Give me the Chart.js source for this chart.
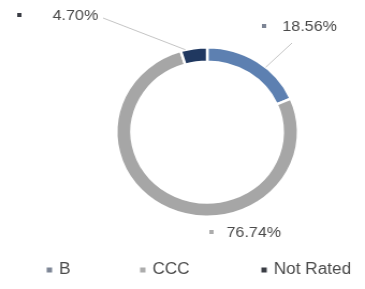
<!DOCTYPE html>
<html>
<head>
<meta charset="utf-8">
<script src="https://cdn.jsdelivr.net/npm/chart.js@4/dist/chart.umd.min.js"></script>
<style>
  html, body { margin: 0; padding: 0; background: #fff; overflow: hidden; }
  #wrap { width: 340px; height: 289px; transform: scaleX(1.0735); transform-origin: 0 0; }
</style>
</head>
<body>
<div id="wrap"><canvas id="ratings"></canvas></div>
<script>
(function () {
  'use strict';

  var categories = ['B', 'CCC', 'Not Rated'];
  var shares = [18.56, 76.74, 4.70];
  var colors = ['#5d80b1', '#a6a6a6', '#203860'];
  var dotColors = ['#7d8595', '#acacac', '#3a3d44'];

  // where each value label sits, and where its leader line starts
  var spots = [
    { text: [263, 27], dot: [246, 26], line: [272, 43], frac: 0.6 },
    { text: [211, 233], dot: [197, 232], line: null },
    { text: [49, 16], dot: [18, 15], line: [96, 18], frac: 0.18 },
  ];
  var legendX = [46, 133, 246];
  var legendY = 270;

  var labelPlugin = {
    id: 'valueLabels',
    afterDraw: function (chart) {
      var ctx = chart.ctx;
      var arcs = chart.getDatasetMeta(0).data;
      ctx.save();
      ctx.font = '15px "Liberation Sans", Arial, sans-serif';
      ctx.textBaseline = 'middle';
      arcs.forEach(function (el, i) {
        var s = spots[i];
        var p = el.getProps(['x', 'y', 'startAngle', 'endAngle', 'outerRadius'], true);
        if (s.line) {
          var a = p.startAngle + (p.endAngle - p.startAngle) * s.frac;
          ctx.strokeStyle = '#c4c4c4';
          ctx.lineWidth = 1;
          ctx.beginPath();
          ctx.moveTo(s.line[0], s.line[1]);
          ctx.lineTo(p.x + Math.cos(a) * p.outerRadius, p.y + Math.sin(a) * p.outerRadius);
          ctx.stroke();
        }
        ctx.fillStyle = dotColors[i];
        ctx.fillRect(s.dot[0] - 2, s.dot[1] - 2, 4, 4);
        ctx.fillStyle = '#4a4a4a';
        ctx.fillText(shares[i].toFixed(2) + '%', s.text[0], s.text[1]);
      });

      ctx.font = '16px "Liberation Sans", Arial, sans-serif';
      categories.forEach(function (name, i) {
        ctx.fillStyle = dotColors[i];
        ctx.fillRect(legendX[i] - 2.5, legendY - 2.5, 5, 5);
        ctx.fillStyle = '#4a4a4a';
        ctx.fillText(name, legendX[i] + 9, legendY);
      });
      ctx.restore();
    },
  };

  new Chart(document.getElementById('ratings'), {
    type: 'doughnut',
    data: {
      labels: categories,
      datasets: [
        {
          data: shares,
          backgroundColor: colors,
          borderColor: '#ffffff',
          borderWidth: 2.5,
        },
      ],
    },
    options: {
      responsive: true,
      maintainAspectRatio: false,
      animation: false,
      cutout: '83%',
      layout: { padding: { top: 46, bottom: 71, left: 46, right: 0 } },
      plugins: {
        legend: { display: false },
        tooltip: { enabled: false },
      },
    },
    plugins: [labelPlugin],
  });
})();
</script>
</body>
</html>
